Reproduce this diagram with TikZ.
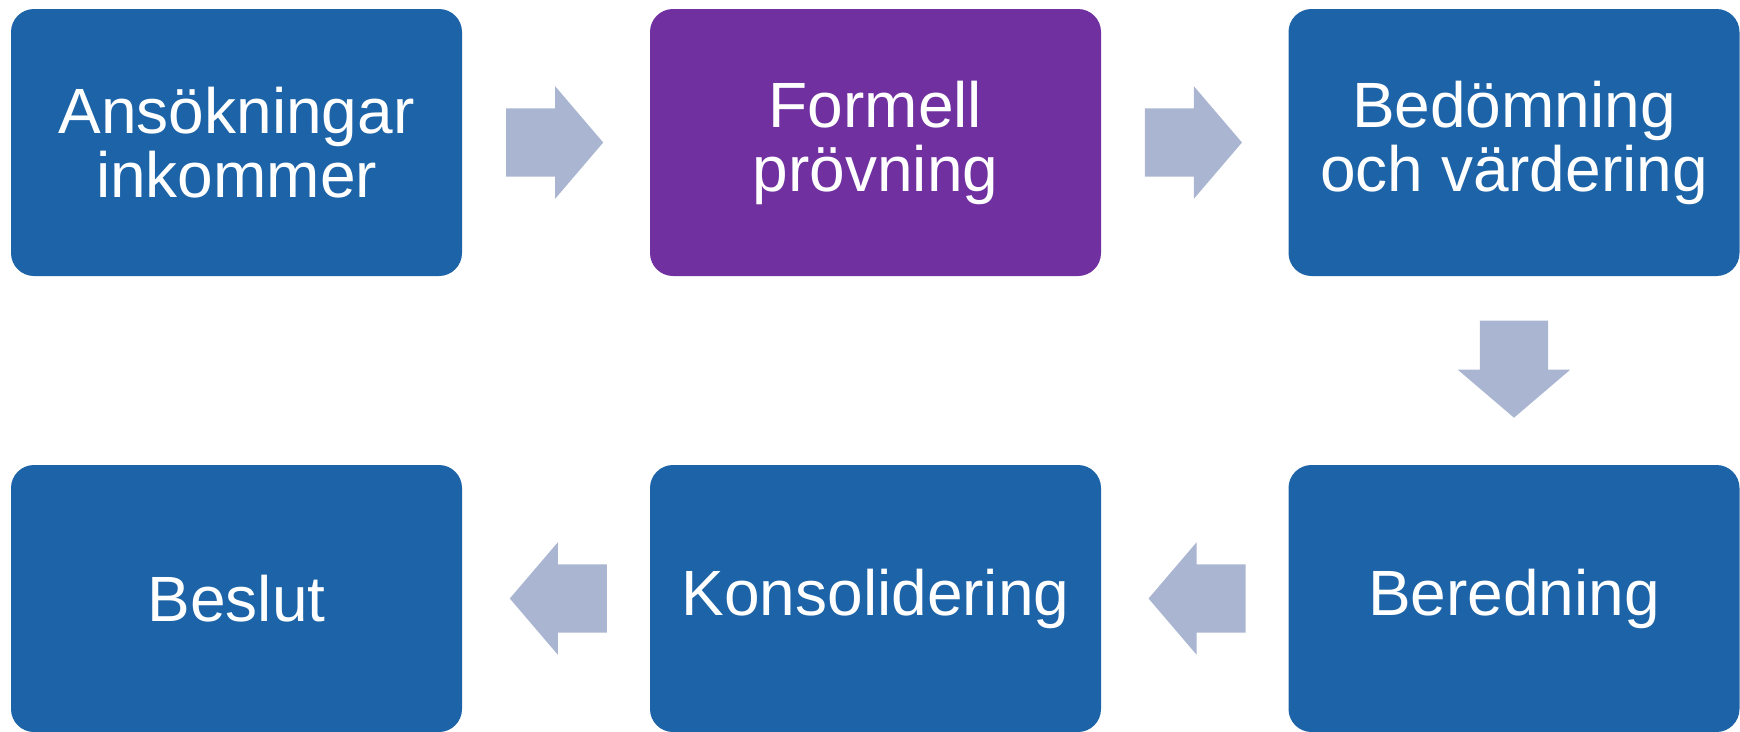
\documentclass[tikz,border=0pt]{standalone}
\usepackage{fontspec}
\setmainfont{Liberation Sans}
\usetikzlibrary{shapes.arrows,calc}
\definecolor{stepblue}{RGB}{28,99,167}
\definecolor{steppurple}{RGB}{112,48,160}
\definecolor{arrowgray}{RGB}{170,182,209}
\tikzstyle{stepbox}=[rectangle,rounded corners=23pt,minimum width=451pt,minimum height=267pt,inner sep=0pt,text=white,align=center,font=\fontsize{64}{64}\selectfont]
\tikzstyle{flowarrow}=[single arrow,anchor=tail,fill=arrowgray,draw=none,inner xsep=0pt,inner ysep=34pt,minimum height=97pt,minimum width=112pt,single arrow head extend=22pt,single arrow tip angle=99]

\begin{document}
\begin{tikzpicture}[x=1pt,y=-1pt]
	\useasboundingbox (0,0) rectangle (1740,731);
	%boxes, top row
	\node[stepbox,fill=stepblue] (ansok) at (236.5,142.5) {Ansökningar\\inkommer};
	\node[stepbox,fill=steppurple] (formell) at (875.5,142.5) {Formell\\prövning};
	\node[stepbox,fill=stepblue] (bedom) at (1514,142.5) {Bedömning\\och värdering};
	%boxes, bottom row
	\node[stepbox,fill=stepblue] (bered) at (1514,598.5) {Beredning};
	\node[stepbox,fill=stepblue] (konsol) at (875.5,598.5) {Konsolidering};
	\node[stepbox,fill=stepblue] (beslut) at (236.5,598.5) {Beslut};
	%arrows (placed by their tail)
	\node[flowarrow] (pil1) at ($(ansok.east)!0.5!(formell.west)+(-50,0)$) {};
	\node[flowarrow] (pil2) at ($(formell.east)!0.5!(bedom.west)+(-50,0)$) {};
	\node[flowarrow,rotate=-90] (pil3) at ($(bedom.south)!0.5!(bered.north)+(0,-50)$) {};
	\node[flowarrow,rotate=180] (pil4) at ($(bered.west)!0.5!(konsol.east)+(51,0)$) {};
	\node[flowarrow,rotate=180] (pil5) at ($(konsol.west)!0.5!(beslut.east)+(51,0)$) {};
\end{tikzpicture}
\end{document}
